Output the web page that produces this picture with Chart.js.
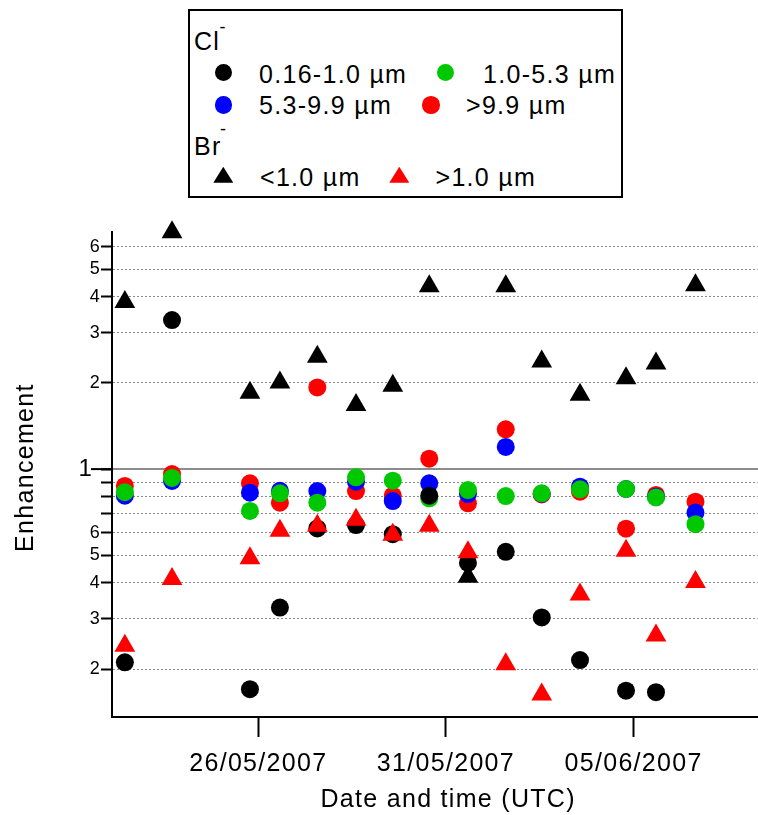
<!DOCTYPE html>
<html>
<head>
<meta charset="utf-8">
<script src="https://cdn.jsdelivr.net/npm/chart.js@4.4.0/dist/chart.umd.min.js"></script>
<style>
  html, body { margin: 0; padding: 0; background: #fff; }
  #wrap { position: relative; width: 758px; height: 815px; }
  #c { position: absolute; left: 0; top: 0; }
  #key {
    position: absolute; left: 188px; top: 9px; width: 435px; height: 189px;
    box-sizing: border-box; border: 2px solid #000; background: #fff;
    font-family: 'Liberation Sans', Arial, sans-serif; font-size: 25px;
    letter-spacing: 1.3px; color: #000;
  }
  #key .t { position: absolute; line-height: 1; white-space: nowrap; }
  #key .sup { position: absolute; line-height: 1; font-size: 18px; }
  #key .m { position: absolute; }
</style>
</head>
<body>
<div id="wrap">
  <canvas id="c" width="758" height="815"></canvas>
  <div id="key"></div>
</div>
<script>
// Sampling times (UTC)
const times = [
  '2007-05-22T10:40', '2007-05-23T16:50', '2007-05-25T18:40', '2007-05-26T13:50',
  '2007-05-27T13:45', '2007-05-28T14:30', '2007-05-29T14:00', '2007-05-30T13:20',
  '2007-05-31T14:05', '2007-06-01T14:15', '2007-06-02T13:15', '2007-06-03T13:45',
  '2007-06-04T19:10', '2007-06-05T14:20', '2007-06-06T15:35'
];

// Chloride enhancement by particle size
const clFine   = [0.211, 3.32, 0.170, 0.328, 0.62, 0.637, 0.592, 0.807, 0.470, 0.514, 0.303, 0.215, 0.168, 0.166, null];
const clCoarse = [0.830, 0.931, 0.714, 0.823, 0.763, 0.936, 0.911, 0.790, 0.845, 0.805, 0.823, 0.850, 0.852, 0.796, 0.642];
const clLarge  = [0.807, 0.909, 0.827, 0.840, 0.838, 0.904, 0.773, 0.892, 0.818, 1.195, 0.820, 0.868, 0.852, 0.800, 0.705];
const clGiant  = [0.873, 0.961, 0.892, 0.763, 1.93, 0.838, 0.807, 1.087, 0.759, 1.378, 0.815, 0.834, 0.619, 0.812, 0.769];

// Bromide enhancement
const brFine   = [3.84, 6.73, 1.85, 2.01, 2.47, 1.675, 1.957, 4.36, 0.420, 4.36, 2.38, 1.82, 2.08, 2.34, 4.39];
const brCoarse = [0.241, 0.413, 0.488, 0.609, 0.634, 0.665, 0.590, 0.634, 0.512, 0.208, 0.163, 0.364, 0.518, 0.262, 0.403];

// Axes
const xRange = ['2007-05-22T02:27', '2007-06-08T07:34'];
const xTickDates = ['2007-05-26T00:00', '2007-05-31T00:00', '2007-06-05T00:00'];
const xTickLabels = ['26/05/2007', '31/05/2007', '05/06/2007'];
const yRange = [0.1359, 6.745];
const yTickValues = [0.2, 0.3, 0.4, 0.5, 0.6, 0.7, 0.8, 0.9, 1, 2, 3, 4, 5, 6];
const yTickLabels = ['2', '3', '4', '5', '6', '', '', '', '1 ', '2', '3', '4', '5', '6'];
const unity = 1;

const utc = s => Date.parse(s + 'Z');
const tMs = times.map(utc);
const pts = arr => arr.map((v, i) => ({ x: tMs[i], y: v }));

const FONT = "'Liberation Sans', Arial, sans-serif";
const BLACK = '#000000', GREEN = '#00c800', BLUE = '#0000ff', RED = '#ff0000';

function series(label, values, color, shape) {
  return {
    label, data: pts(values), backgroundColor: color, borderColor: color, borderWidth: 0,
    pointStyle: shape, pointRadius: shape === 'triangle' ? 12 : 9, showLine: false, clip: false
  };
}

// first entry is painted last (on top)
const datasets = [
  series('>1.0 µm', brCoarse, RED, 'triangle'),
  series('0.16-1.0 µm', clFine, BLACK, 'circle'),
  series('1.0-5.3 µm', clCoarse, GREEN, 'circle'),
  series('5.3-9.9 µm', clLarge, BLUE, 'circle'),
  series('>9.9 µm', clGiant, RED, 'circle'),
  series('<1.0 µm', brFine, BLACK, 'triangle')
];

// canvas text is tracked slightly wider
const textSpacing = {
  id: 'textSpacing',
  beforeLayout(chart) { chart.ctx.letterSpacing = '1.3px'; },
  beforeDraw(chart) { chart.ctx.letterSpacing = '1.3px'; }
};

// solid reference line at enhancement = 1 with its long tick
const unityLine = {
  id: 'unityLine',
  beforeDatasetsDraw(chart) {
    const { ctx, chartArea: { left, right }, scales: { y } } = chart;
    const py = y.getPixelForValue(unity);
    ctx.save();
    ctx.lineWidth = 2;
    ctx.strokeStyle = '#8c8c8c';
    ctx.beginPath(); ctx.moveTo(left + 1, py); ctx.lineTo(right, py); ctx.stroke();
    ctx.strokeStyle = '#000';
    ctx.beginPath(); ctx.moveTo(left - 21, py); ctx.lineTo(left, py); ctx.stroke();
    ctx.restore();
  }
};

Chart.defaults.font.family = FONT;
Chart.defaults.color = '#000';

new Chart(document.getElementById('c'), {
  type: 'scatter',
  data: { datasets },
  plugins: [textSpacing, unityLine],
  options: {
    responsive: false, animation: false, devicePixelRatio: 1, events: [],
    layout: { autoPadding: false, padding: { top: 232, left: 0, right: 0, bottom: 0 } },
    plugins: { legend: { display: false }, tooltip: { enabled: false } },
    scales: {
      x: {
        type: 'linear', position: 'bottom',
        min: utc(xRange[0]), max: utc(xRange[1]),
        afterBuildTicks: s => { s.ticks = xTickDates.map(d => ({ value: utc(d) })); },
        afterFit: s => { s.height = 98; s.paddingLeft = 0; s.paddingRight = 0; },
        ticks: {
          callback: (v, i) => xTickLabels[i], font: { size: 25 }, color: '#000',
          padding: 12, maxRotation: 0, autoSkip: false
        },
        grid: { drawOnChartArea: false, drawTicks: true, tickLength: 20, tickWidth: 2, tickColor: '#000', tickBorderDash: [] },
        border: { display: true, color: '#000', width: 2 },
        title: { display: true, text: '\u2003Date and time (UTC)', font: { size: 25 }, color: '#000', padding: { top: 0, bottom: 0 } }
      },
      y: {
        type: 'logarithmic', position: 'left',
        min: yRange[0], max: yRange[1],
        afterBuildTicks: s => { s.ticks = yTickValues.map(v => ({ value: v })); },
        afterFit: s => { s.width = 112; s.paddingTop = 0; s.paddingBottom = 0; },
        ticks: {
          callback: (v, i) => yTickLabels[i],
          font: c => ({ size: c.tick && c.tick.value === unity ? 24 : 18 }),
          color: '#000', padding: 0, autoSkip: false
        },
        grid: {
          color: c => (c.tick && c.tick.value === unity) ? 'rgba(0,0,0,0)' : '#8a8a8a',
          lineWidth: 1, drawTicks: true, tickLength: 11, tickWidth: 2,
          tickColor: '#000', tickBorderDash: []
        },
        border: { display: true, color: '#000', width: 2, dash: [2, 2] },
        title: { display: true, text: '\u2002Enhancement', font: { size: 25 }, color: '#000', padding: { top: 11, bottom: 0 } }
      }
    }
  }
});

// Key box: headings per ion, then marker + label slots
const key = document.getElementById('key');
const KX = 190, KY = 11;   // inner origin of the key box
const ASC = 0.8465 * 25;   // baseline offset for line-height 1

function addText(cls, text, x, top) {
  const el = document.createElement('span');
  el.className = cls; el.textContent = text;
  el.style.left = (x - KX) + 'px'; el.style.top = (top - KY) + 'px';
  key.appendChild(el);
  return el;
}

const keyHeads = [
  { text: 'Cl', x: 194, base: 50, supX: 219.5, supTop: 18 },
  { text: 'Br', x: 194, base: 155, supX: 220, supTop: 119.7 }
];
keyHeads.forEach(h => {
  addText('t', h.text, h.x, h.base - ASC);
  addText('sup', '-', h.supX, h.supTop);
});

const keySlots = [
  { label: '0.16-1.0 µm', mx: 223.3, my: 72.7, tx: 259, base: 82.7 },
  { label: '1.0-5.3 µm',  mx: 445.7, my: 72.7, tx: 483, base: 82.7 },
  { label: '5.3-9.9 µm',  mx: 223.3, my: 105,  tx: 259, base: 114.3 },
  { label: '>9.9 µm',     mx: 431,   my: 105,  tx: 466, base: 114.3 },
  { label: '<1.0 µm',     mx: 223.3, my: 175,  tx: 260, base: 186 },
  { label: '>1.0 µm',     mx: 399.3, my: 175,  tx: 435.5, base: 186 }
];
keySlots.forEach(slot => {
  const ds = datasets.find(d => d.label === slot.label);
  const m = document.createElement('div');
  m.className = 'm';
  m.style.background = ds.backgroundColor;
  if (ds.pointStyle === 'triangle') {
    m.style.width = '20px'; m.style.height = '16px';
    m.style.left = (slot.mx - 10 - KX) + 'px'; m.style.top = (slot.my - 8.3 - KY) + 'px';
    m.style.clipPath = 'polygon(50% 0, 100% 100%, 0 100%)';
  } else {
    m.style.width = '17.4px'; m.style.height = '17.4px'; m.style.borderRadius = '50%';
    m.style.left = (slot.mx - 8.7 - KX) + 'px'; m.style.top = (slot.my - 8.7 - KY) + 'px';
  }
  key.appendChild(m);
  addText('t', ds.label, slot.tx, slot.base - ASC);
});
</script>
</body>
</html>
